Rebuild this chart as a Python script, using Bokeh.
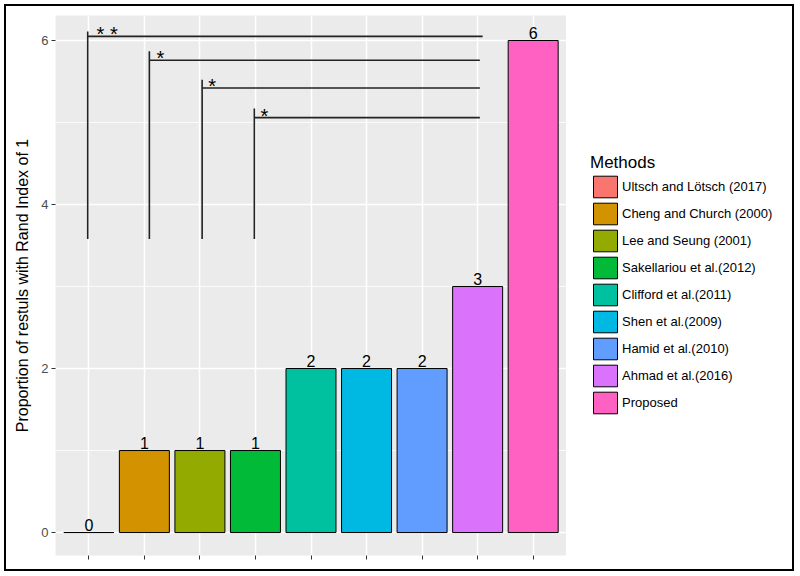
from bokeh.plotting import figure
from bokeh.models import ColumnDataSource, FixedTicker, Legend, LegendItem
from bokeh.layouts import row
from bokeh.core.properties import value
from bokeh.embed import file_html
from bokeh.resources import INLINE

methods = ["Ultsch and Lötsch (2017)", "Cheng and Church (2000)", "Lee and Seung (2001)",
           "Sakellariou et al.(2012)", "Clifford et al.(2011)", "Shen et al.(2009)",
           "Hamid et al.(2010)", "Ahmad et al.(2016)", "Proposed"]
counts = [0, 1, 1, 1, 2, 2, 2, 3, 6]
colors = ["#F8766D", "#D39200", "#93AA00", "#00BA38", "#00C19F", "#00B9E3",
          "#619CFF", "#DB72FB", "#FF61C3"]
positions = list(range(1, len(methods) + 1))

# significance brackets
sig_x0 = [0.98, 2.09, 3.04, 3.98]
sig_x1 = [8.09, 8.04, 8.04, 8.04]
sig_y = [6.05, 5.76, 5.42, 5.06]
sig_ytop = [6.11, 5.87, 5.52, 5.17]
sig_ybot = [3.58, 3.58, 3.58, 3.58]
sig_text = ["* *", "*", "*", "*"]
sig_text_x = [1.33, 2.29, 3.22, 4.16]

y_ticks = [0, 2, 4, 6]
y_minor = [1, 3, 5]

FONT = "Liberation Sans"

p = figure(width=560, height=563, output_backend="svg", toolbar_location=None,
           x_range=(0.4, 9.6), y_range=(-0.28, 6.305),
           frame_width=511, frame_height=540,
           min_border_left=49, min_border_right=0, min_border_top=9, min_border_bottom=14)
p.background_fill_color = "#EBEBEB"
p.border_fill_color = "white"
p.outline_line_color = None

src = ColumnDataSource(dict(x=positions, top=counts, color=colors, name=methods,
                            lab=[str(c) for c in counts]))
bars = p.vbar(x="x", top="top", bottom=0, width=0.9, fill_color="color",
              line_color="black", line_width=1, source=src)

p.text(x="x", y="top", text="lab", source=src, text_align="center",
       text_baseline="alphabetic", y_offset=-8, text_font=value(FONT),
       text_font_size="16px", text_color="black")

p.segment(x0=sig_x0, y0=sig_y, x1=sig_x1, y1=sig_y, line_color="#222222", line_width=1.6)
p.segment(x0=sig_x0, y0=sig_ybot, x1=sig_x0, y1=sig_ytop, line_color="#222222", line_width=1.6)
p.text(x=sig_text_x, y=sig_y, text=sig_text, text_align="center", text_baseline="alphabetic",
       y_offset=-2, text_font=value(FONT), text_font_size="20px", text_color="black")

# axes
p.xaxis.ticker = FixedTicker(ticks=positions)
p.xaxis.major_label_overrides = {i: "" for i in positions}
p.xaxis.major_label_text_font_size = "1px"
p.xaxis.major_label_standoff = 0
p.xaxis.axis_line_color = None
p.xaxis.major_tick_out = 4
p.xaxis.major_tick_in = 0
p.xaxis.major_tick_line_color = "#333333"
p.xaxis.minor_tick_line_color = None

p.yaxis.ticker = FixedTicker(ticks=y_ticks, minor_ticks=y_minor)
p.yaxis.axis_line_color = None
p.yaxis.major_tick_out = 4
p.yaxis.major_tick_in = 0
p.yaxis.major_tick_line_color = "#333333"
p.yaxis.minor_tick_line_color = None
p.yaxis.major_label_text_font = FONT
p.yaxis.major_label_text_font_size = "13px"
p.yaxis.major_label_text_color = "#4D4D4D"
p.yaxis.major_label_standoff = 3
p.yaxis.axis_label = "Proportion of restuls with Rand Index of 1"
p.yaxis.axis_label_text_font = FONT
p.yaxis.axis_label_text_font_size = "16px"
p.yaxis.axis_label_text_font_style = "normal"
p.yaxis.axis_label_text_color = "black"
p.yaxis.axis_label_standoff = 7

p.xgrid.grid_line_color = "white"
p.xgrid.grid_line_width = 1.5
p.ygrid.grid_line_color = "white"
p.ygrid.grid_line_width = 1.5
p.ygrid.minor_grid_line_color = "white"
p.ygrid.minor_grid_line_width = 0.8

# legend panel (a separate, axis-less figure holding the key)
pl = figure(width=226, height=563, output_backend="svg", toolbar_location=None,
            x_range=(0, 1), y_range=(0, 1), x_axis_location=None, y_axis_location=None,
            min_border=0)
pl.outline_line_color = None
pl.background_fill_color = "white"
pl.border_fill_color = "white"
pl.grid.visible = False
src_l = ColumnDataSource(dict(x=[50 + i for i in positions], top=counts, color=colors))
lbars = pl.vbar(x="x", top="top", bottom=0, width=0.9, fill_color="color",
                line_color="black", line_width=1, source=src_l)

items = [LegendItem(label=m, renderers=[lbars], index=i) for i, m in enumerate(methods)]
legend = Legend(items=items, location=(24, 139), title="Methods",
                title_text_font=FONT, title_text_font_size="17px", title_text_font_style="normal",
                title_text_color="black", title_standoff=0,
                label_text_font=FONT, label_text_font_size="13px", label_text_color="black",
                glyph_width=30, glyph_height=27, spacing=0, label_standoff=2,
                margin=0, padding=10, border_line_color=None, background_fill_color="white",
                background_fill_alpha=1.0)
pl.add_layout(legend, "center")

layout = row(p, pl)
layout.styles = {"border": "2px solid black", "margin-left": "4px", "margin-top": "4px"}

open("out.html", "w").write(file_html(layout, INLINE))
